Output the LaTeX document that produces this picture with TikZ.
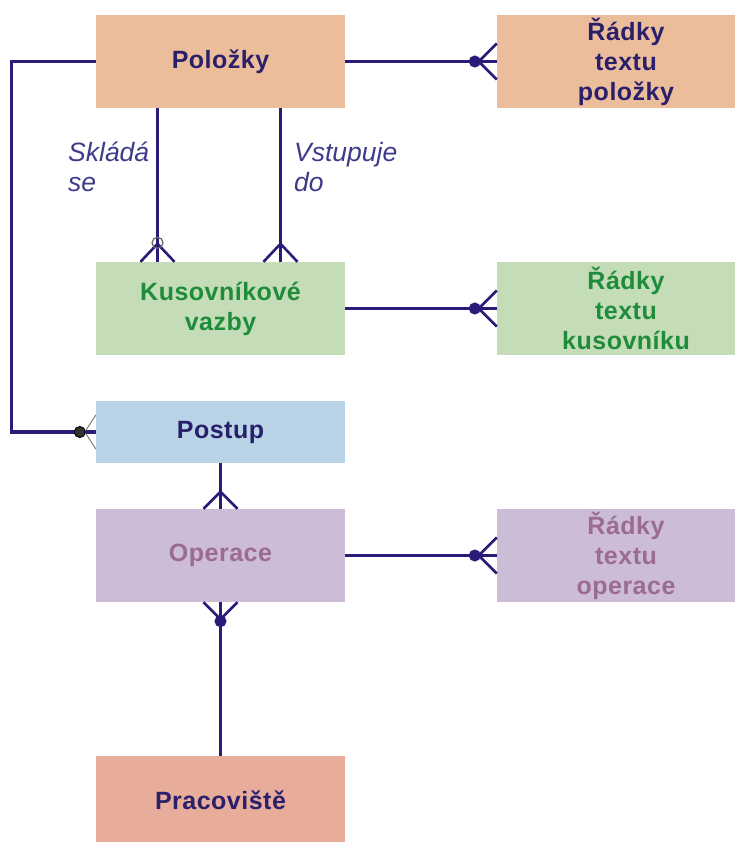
\documentclass[tikz,border=0pt]{standalone}
\usepackage{fontspec}
\setmainfont{Liberation Sans}
\usetikzlibrary{calc}

\definecolor{linecol}{HTML}{2B1B78}
\definecolor{navytext}{HTML}{2A1F6B}
\definecolor{labelcol}{HTML}{3F3A8A}
\definecolor{greentext}{HTML}{1F8C3A}
\definecolor{mauvetext}{HTML}{9B6B95}
\definecolor{peach}{HTML}{ECBD9A}
\definecolor{sage}{HTML}{C4DCB8}
\definecolor{skyblue}{HTML}{B8D4E6}
\definecolor{lilac}{HTML}{CDBCD6}
\definecolor{salmon}{HTML}{E8AC9A}

\tikzset{
  entity/.style={draw=none, minimum width=249pt, minimum height=93pt,
    inner sep=0pt, align=center,
    font=\bfseries\fontsize{25}{30}\selectfont\addfontfeatures{LetterSpace=2}},
  textbox/.style={entity, minimum width=258pt},
  rel/.style={line width=3.2pt, draw=linecol},
  foot/.style={line width=2.6pt, draw=linecol, line join=miter},
  thinfoot/.style={line width=1pt, draw=gray},
  ringdark/.style={line width=1pt, draw=linecol, fill=linecol},
  ringblack/.style={line width=1pt, draw=black, fill=black!80},
  ringhollow/.style={line width=1.2pt, draw=gray!80!black},
  lbl/.style={font=\itshape\fontsize{26.5}{30}\selectfont, text=labelcol,
    align=left, anchor=north west, inner sep=0pt}
}

\begin{document}
\begin{tikzpicture}[x=1pt, y=-1pt]
\path[use as bounding box, clip] (0,0) rectangle (735,842);

% entities
\node[entity, fill=peach, text=navytext] (pol) at (220.5,61.5) {Položky};
\node[textbox, fill=peach, text=navytext] (rpol) at (626,61.5) {Řádky\\textu\\položky};
\node[entity, fill=sage, text=greentext] (kus) at (220.5,308.5) {Kusovníkové\\vazby};
\node[textbox, fill=sage, text=greentext] (rkus) at (626,308.5) {Řádky\\textu\\kusovníku};
\node[entity, fill=skyblue, text=navytext, minimum height=62pt] (post) at (220.5,432) {Postup};
\node[entity, fill=lilac, text=mauvetext] (oper) at (220.5,555.5) {Operace};
\node[textbox, fill=lilac, text=mauvetext] (roper) at (626,555.5) {Řádky\\textu\\operace};
\node[entity, fill=salmon, text=navytext, minimum height=88pt] (prac) at (220.5,800) {Pracoviště};

% relationship labels
\node[lbl] (lskl) at (68,142) {Skládá\\se};
\node[lbl] (lvst) at (294,142) {Vstupuje\\do};

% Položky -- Řádky textu položky
\draw[rel] (pol.east) -- (rpol.west);
\draw[foot] ($(rpol.west)+(0,-18)$) -- ($(rpol.west)+(-18,0)$) -- ($(rpol.west)+(0,18)$);
\draw[ringdark] ($(rpol.west)+(-22,0)$) circle (5.5pt);

% Položky -- Kusovníkové vazby (Skládá se)
\coordinate (sa) at ($(pol.south)+(-63,0)$);
\coordinate (sb) at ($(kus.north)+(-63,0)$);
\draw[rel] (sa) -- (sb);
\draw[foot] ($(sb)+(-17,0)$) -- ($(sb)+(0,-18)$) -- ($(sb)+(17,0)$);
\draw[ringhollow] ($(sb)+(0,-19)$) circle (5.5pt);

% Položky -- Kusovníkové vazby (Vstupuje do)
\coordinate (va) at ($(pol.south)+(60,0)$);
\coordinate (vb) at ($(kus.north)+(60,0)$);
\draw[rel] (va) -- (vb);
\draw[foot] ($(vb)+(-17,0)$) -- ($(vb)+(0,-18)$) -- ($(vb)+(17,0)$);

% Kusovníkové vazby -- Řádky textu kusovníku
\draw[rel] (kus.east) -- (rkus.west);
\draw[foot] ($(rkus.west)+(0,-18)$) -- ($(rkus.west)+(-18,0)$) -- ($(rkus.west)+(0,18)$);
\draw[ringdark] ($(rkus.west)+(-22,0)$) circle (5.5pt);

% Položky -- Postup
\draw[rel] (pol.west) -- ++(-84,0) |- (post.west);
\draw[thinfoot] ($(post.west)+(0,-17)$) -- ($(post.west)+(-11,0)$) -- ($(post.west)+(0,17)$);
\draw[ringblack] ($(post.west)+(-16,0)$) circle (5.5pt);

% Postup -- Operace
\draw[rel] (post.south) -- (oper.north);
\draw[foot] ($(oper.north)+(-17,0)$) -- ($(oper.north)+(0,-17)$) -- ($(oper.north)+(17,0)$);

% Operace -- Řádky textu operace
\draw[rel] (oper.east) -- (roper.west);
\draw[foot] ($(roper.west)+(0,-18)$) -- ($(roper.west)+(-18,0)$) -- ($(roper.west)+(0,18)$);
\draw[ringdark] ($(roper.west)+(-22,0)$) circle (5.5pt);

% Operace -- Pracoviště
\draw[rel] (oper.south) -- (prac.north);
\draw[foot] ($(oper.south)+(-17,0)$) -- ($(oper.south)+(0,17)$) -- ($(oper.south)+(17,0)$);
\draw[ringdark] ($(oper.south)+(0,19)$) circle (5.5pt);
\end{tikzpicture}
\end{document}
